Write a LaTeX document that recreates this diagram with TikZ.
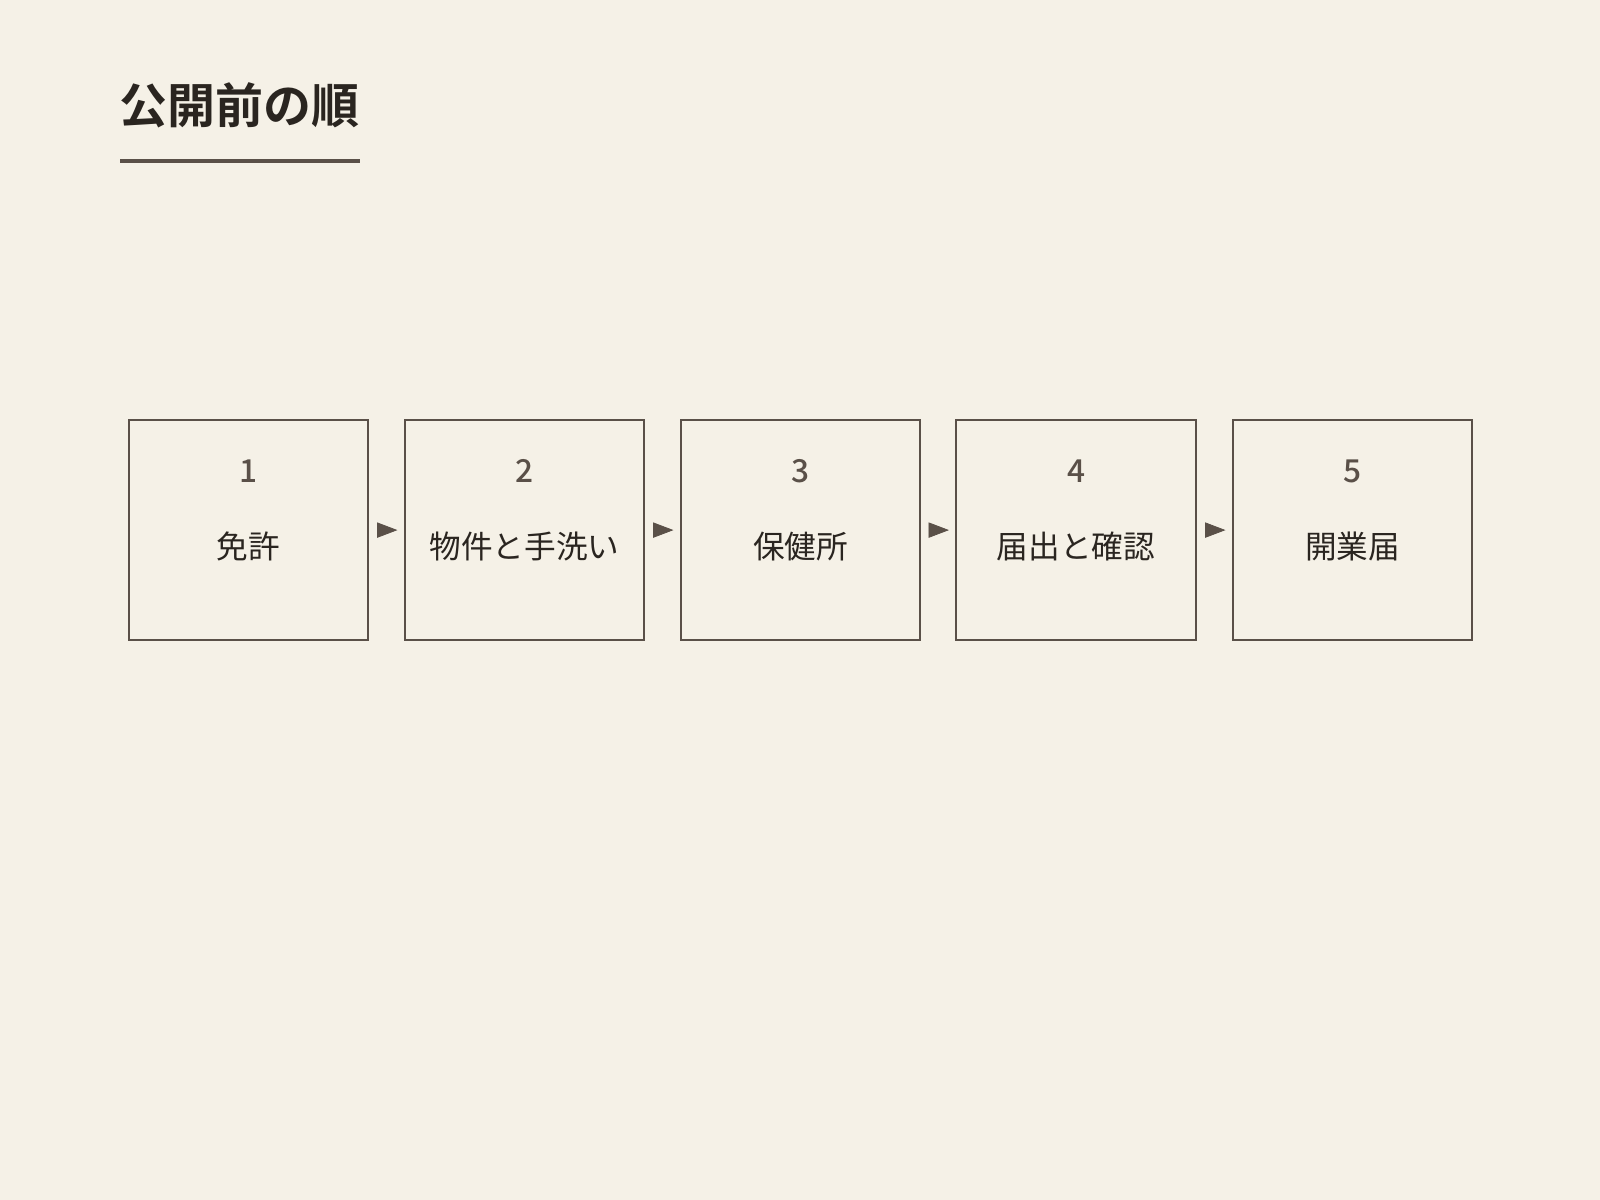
\documentclass[tikz,border=0pt]{standalone}
\usepackage{fontspec}
\setmainfont{Noto Sans CJK JP}
\newfontfamily\titlefont{Noto Sans CJK JP Bold}
\newfontfamily\numfont{Noto Sans CJK JP Medium}
\usepackage{tikz}
\usetikzlibrary{arrows.meta}
\definecolor{paper}{HTML}{F5F1E7}
\definecolor{ink}{HTML}{2A2520}
\definecolor{frame}{HTML}{5A5048}
\tikzset{
  stepbox/.style={draw=frame, line width=1pt, fill=paper, minimum width=117.5pt, minimum height=107.5pt, inner sep=0pt},
  stepnum/.style={text=frame, font=\numfont\fontsize{15.5}{18}\selectfont},
  steplabel/.style={text=ink, font=\fontsize{15.5}{18}\selectfont},
  arr/.style={-{Triangle[length=10pt,width=7.5pt]}, draw=frame, fill=frame, line width=0.4pt}
}
\begin{document}
\begin{tikzpicture}[x=0.5pt,y=-0.5pt]
          \fill[paper] (0,0) rectangle (1568,1176);
          \useasboundingbox (0,0) rectangle (1568,1176);
          \node[anchor=west, text=ink, inner sep=0pt, font=\titlefont\fontsize{23.5}{28}\selectfont] (title) at (117,103) {公開前の順};
          \draw[frame, line width=2pt] (118,158) -- (353,158);
          \node[stepbox] (b1) at (243.5,519.5) {};
          \node[stepbox] (b2) at (514,519.5) {};
          \node[stepbox] (b3) at (784.5,519.5) {};
          \node[stepbox] (b4) at (1054.5,519.5) {};
          \node[stepbox] (b5) at (1325.5,519.5) {};
          \node[stepnum] (n1) at ([yshift=29pt]b1.center) {1};
          \node[stepnum] (n2) at ([yshift=29pt]b2.center) {2};
          \node[stepnum] (n3) at ([yshift=29pt]b3.center) {3};
          \node[stepnum] (n4) at ([yshift=29pt]b4.center) {4};
          \node[stepnum] (n5) at ([yshift=29pt]b5.center) {5};
          \node[steplabel] (l1) at ([yshift=-8pt]b1.center) {免許};
          \node[steplabel] (l2) at ([yshift=-8pt]b2.center) {物件と手洗い};
          \node[steplabel] (l3) at ([yshift=-8pt]b3.center) {保健所};
          \node[steplabel] (l4) at ([yshift=-8pt]b4.center) {届出と確認};
          \node[steplabel] (l5) at ([yshift=-8pt]b5.center) {開業届};
          \draw[arr] ([xshift=5pt]b1.east) -- ([xshift=-3pt]b2.west);
          \draw[arr] ([xshift=5pt]b2.east) -- ([xshift=-3pt]b3.west);
          \draw[arr] ([xshift=5pt]b3.east) -- ([xshift=-3pt]b4.west);
          \draw[arr] ([xshift=5pt]b4.east) -- ([xshift=-3pt]b5.west);
        \end{tikzpicture}
\end{document}
